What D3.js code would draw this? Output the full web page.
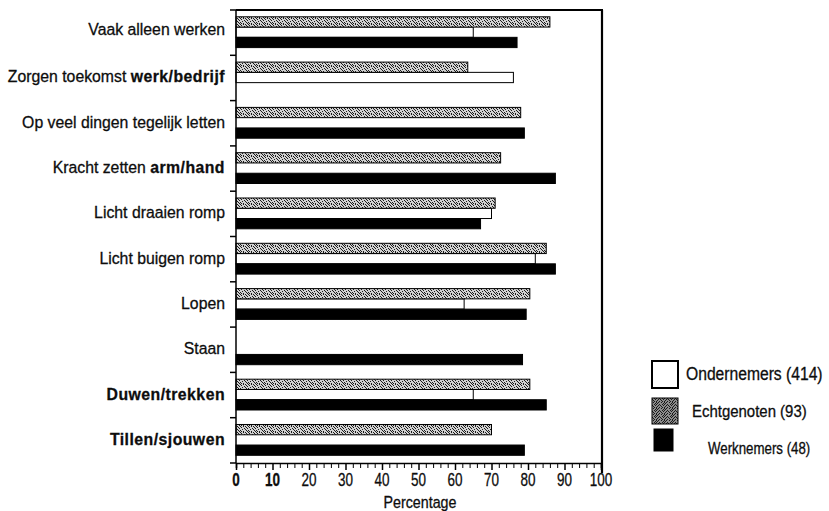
<!DOCTYPE html>
<html>
<head>
<meta charset="utf-8">
<script src="https://d3js.org/d3.v7.min.js"></script>
<style>
  body { margin: 0; background: #fff; }
  svg text {
    font-family: "Liberation Sans", Arial, Helvetica, sans-serif;
    fill: #0d0d0d;
    stroke: #0d0d0d;
    stroke-width: 0.3px;
  }
</style>
</head>
<body>
<script>
// data (percentages)
var categories = ["Vaak alleen werken", "Zorgen toekomst werk/bedrijf",
                  "Op veel dingen tegelijk letten", "Kracht zetten arm/hand",
                  "Licht draaien romp", "Licht buigen romp", "Lopen", "Staan",
                  "Duwen/trekken", "Tillen/sjouwen"];
var ondernemers = [65, 76, null, null, 70, 82, 62.5, null, 65, null];
var echtgenoten = [86, 63.5, 78, 72.5, 71, 85, 80.5, null, 80.5, 70];
var werknemers  = [77, null, 79, 87.5, 67, 87.5, 79.5, 78.5, 85, 79];
var xTicks = [0, 10, 20, 30, 40, 50, 60, 70, 80, 90, 100];
var seriesNames = ["Ondernemers (414)", "Echtgenoten (93)", "Werknemers (48)"];
var boldParts = ["werk/bedrijf", "arm/hand", "Duwen/trekken", "Tillen/sjouwen"];

var width = 829, height = 511;
var svg = d3.select("body").append("svg")
    .attr("width", width)
    .attr("height", height);

// narrow type: the scan uses a condensed face, so squeeze horizontally
function squeeze(sel, k) {
  sel.each(function () {
    var t = d3.select(this);
    var tx = +t.attr("x"), ty = +t.attr("y");
    t.attr("x", 0).attr("y", 0)
     .attr("transform", "translate(" + tx + "," + ty + ") scale(" + k + ",1)");
  });
}

// stipple texture used for the Echtgenoten bars
var defs = svg.append("defs");
function stipple(id, bg, dots) {
  var p = defs.append("pattern")
      .attr("id", id)
      .attr("width", 8).attr("height", 6)
      .attr("patternUnits", "userSpaceOnUse");
  p.append("rect").attr("width", 8).attr("height", 6).attr("fill", bg);
  dots.forEach(function (d) {
    p.append("rect").attr("x", d[0]).attr("y", d[1])
      .attr("width", 1).attr("height", 1).attr("fill", "#1a1a1a");
  });
}
stipple("stip", "#d2d2d2", [[0,0],[3,0],[6,1],[1,1],[4,2],[7,2],[2,3],[5,3],[0,4],[6,4],[3,5],[1,5],[7,5],[5,0]]);
stipple("stipDark", "#8c8c8c", [[0,0],[2,0],[5,0],[7,1],[1,1],[3,2],[6,2],[0,2],[4,3],[2,3],[7,3],[1,4],[5,4],[3,5],[6,5],[0,5]]);

var x = d3.scaleLinear().domain([0, 100]).range([236, 601]);
var y = d3.scaleBand().domain(categories).range([10, 463]).paddingInner(0);
var inner = d3.scaleBand()
    .domain(["Echtgenoten", "Ondernemers", "Werknemers"])
    .range([y.bandwidth() * 0.15, y.bandwidth() * 0.83]);

var rows = categories.map(function (c, i) {
  return { cat: c, Ondernemers: ondernemers[i], Echtgenoten: echtgenoten[i], Werknemers: werknemers[i] };
});

var fills = { Ondernemers: "#fff", Echtgenoten: "url(#stip)", Werknemers: "#000" };

// bars
["Ondernemers", "Echtgenoten", "Werknemers"].forEach(function (s) {
  svg.append("g").selectAll("rect")
    .data(rows.filter(function (r) { return r[s] != null; }))
    .enter().append("rect")
      .attr("x", x(0))
      .attr("y", function (r) { return y(r.cat) + inner(s); })
      .attr("width", function (r) { return x(r[s]) - x(0); })
      .attr("height", inner.bandwidth())
      .attr("fill", fills[s])
      .attr("stroke", "#000")
      .attr("stroke-width", 1);
});

// frame: top and right border
svg.append("line").attr("x1", x(0)).attr("x2", 603).attr("y1", 10).attr("y2", 10)
  .attr("stroke", "#000").attr("stroke-width", 2);
svg.append("line").attr("x1", 602).attr("x2", 602).attr("y1", 10).attr("y2", 473)
  .attr("stroke", "#000").attr("stroke-width", 2.2);

// y axis: line with ticks at the band boundaries
var bounds = categories.map(function (c) { return y(c); }).concat([y.range()[1]]);
svg.append("line").attr("x1", x(0)).attr("x2", x(0)).attr("y1", 10).attr("y2", 463)
  .attr("stroke", "#000").attr("stroke-width", 1.5);
svg.append("g").selectAll("line").data(bounds).enter().append("line")
  .attr("x1", 230).attr("x2", x(0))
  .attr("y1", function (d) { return d; }).attr("y2", function (d) { return d; })
  .attr("stroke", "#000").attr("stroke-width", 1.5);

// category labels
var labels = svg.append("g").selectAll("text").data(categories).enter().append("text")
  .attr("x", 225)
  .attr("y", function (d, i) { return y(d) + y.bandwidth() / 2 + (i === 0 ? -4 : -1.5); })
  .attr("dy", "0.35em")
  .attr("text-anchor", "end")
  .style("font-size", "17px")
  .each(function (d) {
    var t = d3.select(this);
    var bold = boldParts.filter(function (b) { return d.indexOf(b) >= 0; })[0];
    if (!bold) { t.text(d); return; }
    var pre = d.slice(0, d.indexOf(bold));
    if (pre) t.append("tspan").text(pre);
    t.append("tspan").style("font-weight", "bold").style("letter-spacing", "0.5px").text(bold);
  });
squeeze(labels, 0.93);

// x axis
var xAxis = d3.axisBottom(x)
    .tickValues(d3.range(0, 101, 2))
    .tickSize(5)
    .tickFormat("");
var gx = svg.append("g").attr("transform", "translate(0,463)").call(xAxis);
gx.select(".domain").attr("stroke-width", 1.5);
gx.selectAll(".tick line")
  .attr("y2", function (d) { return d % 10 === 0 ? 7 : 5; })
  .attr("stroke-width", function (d) { return d % 10 === 0 ? 1.5 : 1; });

var tickLabels = svg.append("g").selectAll("text").data(xTicks).enter().append("text")
  .attr("x", function (d) { return x(d); })
  .attr("y", 486)
  .attr("text-anchor", "middle")
  .style("font-size", "18px")
  .style("font-weight", function (d) { return d <= 10 ? "bold" : "normal"; })
  .text(function (d) { return d; });
squeeze(tickLabels, 0.75);

var xTitle = svg.append("text")
  .attr("x", 420).attr("y", 508)
  .attr("text-anchor", "middle")
  .style("font-size", "17px")
  .text("Percentage");
squeeze(xTitle, 0.84);

// legend
var legendFills = ["#fff", "url(#stipDark)", "#000"];
var legendBoxes = [[652, 361, 26, 27], [652, 398, 26, 26], [654, 429, 19, 22]];
var legendText = [[686, 374, 18, 0.87], [692, 411, 17, 0.88], [708, 448, 16, 0.83]];
var lg = svg.append("g");
seriesNames.forEach(function (name, i) {
  var b = legendBoxes[i], t = legendText[i];
  lg.append("rect")
    .attr("x", b[0]).attr("y", b[1]).attr("width", b[2]).attr("height", b[3])
    .attr("fill", legendFills[i])
    .attr("stroke", "#000").attr("stroke-width", i === 0 ? 2 : 1);
  var txt = lg.append("text")
    .attr("x", t[0]).attr("y", t[1])
    .attr("dy", "0.35em")
    .style("font-size", t[2] + "px")
    .text(name);
  squeeze(txt, t[3]);
});
</script>
</body>
</html>
